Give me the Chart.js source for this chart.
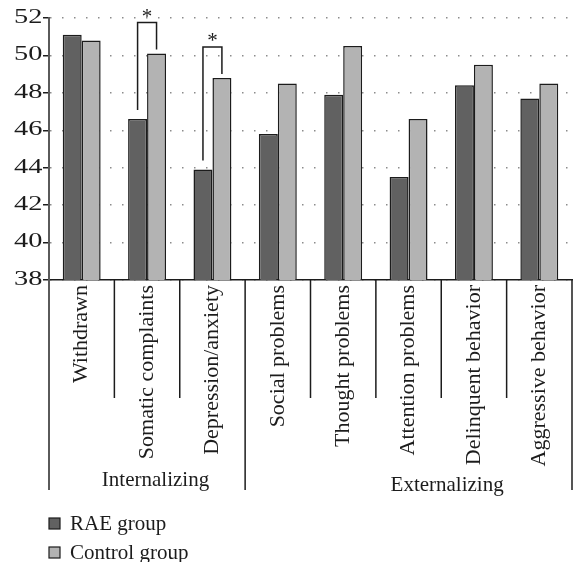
<!DOCTYPE html>
<html>
<head>
<meta charset="utf-8">
<script src="https://cdn.jsdelivr.net/npm/chart.js@4.4.0/dist/chart.umd.min.js"></script>
<style>
  html, body { margin: 0; padding: 0; background: #fff; }
  #wrap { width: 573px; height: 562px; }
</style>
</head>
<body>
<div id="wrap"><canvas id="c" width="573" height="562"></canvas></div>
<script>
// CBCL subscale scores
const categories = [
  'Withdrawn', 'Somatic complaints', 'Depression/anxiety', 'Social problems',
  'Thought problems', 'Attention problems', 'Delinquent behavior', 'Aggressive behavior'
];
const raeGroup     = [51.1, 46.6, 43.9, 45.8, 47.9, 43.5, 48.4, 47.7];
const controlGroup = [50.8, 50.1, 48.8, 48.5, 50.5, 46.6, 49.5, 48.5];
const seriesNames  = ['RAE group', 'Control group'];

// Broad-band scales and how many subscales each spans
const scaleGroups     = ['Internalizing', 'Externalizing'];
const scaleGroupSizes = [3, 5];

// Subscales with a significant group difference
const significant = [1, 2];

// Value axis
const yMin = 38, yMax = 52, yStep = 2;

const SERIF = "'Liberation Serif', 'Times New Roman', serif";
const INK = '#1c1c1c';
const AXIS_GRAY = '#5a5a5a';

// Value-axis numbers, set in a widened serif
const wideTickLabels = {
  id: 'wideTickLabels',
  afterDraw(chart, args, opts) {
    const ys = chart.scales.y;
    const ctx = chart.ctx;
    ctx.save();
    ctx.fillStyle = INK;
    ctx.font = opts.fontSize + 'px ' + SERIF;
    ctx.textAlign = 'right';
    ctx.textBaseline = 'alphabetic';
    ys.ticks.forEach(t => {
      const y = ys.getPixelForValue(t.value);
      ctx.save();
      ctx.translate(opts.right, y + opts.baselineShift);
      ctx.scale(opts.stretch, 1);
      ctx.fillText(String(t.value), 0, 0);
      ctx.restore();
    });
    ctx.restore();
  }
};

// Vertical dividers under the category axis plus broad-band labels
const categoryFrame = {
  id: 'categoryFrame',
  afterDraw(chart, args, opts) {
    const xs = chart.scales.x;
    const ctx = chart.ctx;
    const step = xs.getPixelForValue(1) - xs.getPixelForValue(0);
    const x0 = xs.getPixelForValue(0) - step / 2;
    const top = chart.chartArea.bottom;
    const groupEdges = [0];
    scaleGroupSizes.forEach(n => groupEdges.push(groupEdges[groupEdges.length - 1] + n));
    ctx.save();
    for (let i = 0; i <= categories.length; i++) {
      const x = x0 + i * step;
      const isGroupEdge = groupEdges.includes(i);
      ctx.strokeStyle = i === 0 ? AXIS_GRAY : INK;
      ctx.lineWidth = i === 0 ? 2 : 1.5;
      ctx.beginPath();
      ctx.moveTo(x, top);
      ctx.lineTo(x, top + (isGroupEdge ? opts.groupDrop : opts.innerDrop));
      ctx.stroke();
    }
    ctx.fillStyle = INK;
    ctx.font = opts.fontSize + 'px ' + SERIF;
    ctx.textAlign = 'center';
    ctx.textBaseline = 'alphabetic';
    scaleGroups.forEach((name, g) => {
      const left = x0 + groupEdges[g] * step;
      const right = x0 + groupEdges[g + 1] * step;
      const cx = left + (right - left) * opts.labelAnchor[g];
      ctx.fillText(name, cx, top + opts.labelDrop[g]);
    });
    ctx.restore();
  }
};

// Brackets with asterisks over significantly different pairs
const significanceMarks = {
  id: 'significanceMarks',
  afterDatasetsDraw(chart, args, opts) {
    const ctx = chart.ctx;
    const a = chart.getDatasetMeta(0).data;
    const b = chart.getDatasetMeta(1).data;
    ctx.save();
    ctx.strokeStyle = INK;
    ctx.lineWidth = 1.5;
    ctx.fillStyle = INK;
    ctx.font = opts.fontSize + 'px ' + SERIF;
    ctx.textAlign = 'center';
    ctx.textBaseline = 'alphabetic';
    significant.forEach(i => {
      const left = a[i], right = b[i];
      const yTop = Math.min(left.y, right.y) - opts.rise;
      ctx.beginPath();
      ctx.moveTo(left.x, left.y - opts.gapLeft);
      ctx.lineTo(left.x, yTop);
      ctx.lineTo(right.x, yTop);
      ctx.lineTo(right.x, right.y - opts.gapRight);
      ctx.stroke();
      ctx.fillText('*', (left.x + right.x) / 2, yTop + opts.starLift);
    });
    ctx.restore();
  }
};

// Stacked legend below the category labels
const stackedLegend = {
  id: 'stackedLegend',
  afterDraw(chart, args, opts) {
    const ctx = chart.ctx;
    ctx.save();
    ctx.font = opts.fontSize + 'px ' + SERIF;
    ctx.textBaseline = 'alphabetic';
    ctx.textAlign = 'left';
    chart.data.datasets.forEach((ds, k) => {
      const y = opts.top + k * opts.rowGap;
      ctx.fillStyle = ds.backgroundColor;
      ctx.strokeStyle = INK;
      ctx.lineWidth = 1.2;
      ctx.fillRect(opts.x, y, opts.box, opts.box);
      ctx.strokeRect(opts.x, y, opts.box, opts.box);
      ctx.fillStyle = INK;
      ctx.fillText(ds.label, opts.x + opts.box + opts.textGap, y + opts.box + 0.5);
    });
    ctx.restore();
  }
};

new Chart(document.getElementById('c'), {
  type: 'bar',
  data: {
    labels: categories,
    datasets: [
      {
        label: seriesNames[0],
        data: raeGroup,
        backgroundColor: '#616161',
        borderColor: INK,
        borderWidth: 1.5
      },
      {
        label: seriesNames[1],
        data: controlGroup,
        backgroundColor: '#b3b3b3',
        borderColor: INK,
        borderWidth: 1.5
      }
    ]
  },
  options: {
    responsive: false,
    animation: false,
    devicePixelRatio: 1,
    layout: { padding: { top: 18, right: 1, bottom: 0, left: 0 } },
    datasets: {
      bar: { barPercentage: 1.0, categoryPercentage: 0.58 }
    },
    scales: {
      x: {
        grid: { display: false },
        border: { display: true, color: INK, width: 1.5 },
        ticks: {
          autoSkip: false,
          minRotation: 90,
          maxRotation: 90,
          padding: -3,
          color: INK,
          font: { family: SERIF, size: 22 }
        },
        afterFit(scale) { scale.height = 282; }
      },
      y: {
        min: yMin,
        max: yMax,
        grid: {
          color: '#8c8c8c',
          lineWidth: 1.5,
          drawTicks: true,
          tickLength: 6,
          tickColor: INK,
          tickWidth: 1.5
        },
        border: { display: true, color: AXIS_GRAY, width: 2, dash: [1.5, 10.5] },
        ticks: {
          stepSize: yStep,
          display: false
        },
        afterFit(scale) { scale.width = 49; }
      }
    },
    plugins: {
      legend: { display: false },
      tooltip: { enabled: false },
      wideTickLabels: {
        right: 42.5,
        baselineShift: 4.8,
        stretch: 1.42,
        fontSize: 20
      },
      categoryFrame: {
        innerDrop: 118,
        groupDrop: 210,
        fontSize: 21,
        labelAnchor: [0.543, 0.618],
        labelDrop: [206, 211]
      },
      significanceMarks: {
        rise: 31,
        gapLeft: 9,
        gapRight: 4,
        starLift: 0,
        fontSize: 21
      },
      stackedLegend: {
        x: 49,
        top: 518,
        rowGap: 29,
        box: 11,
        textGap: 10,
        fontSize: 21
      }
    }
  },
  plugins: [wideTickLabels, categoryFrame, significanceMarks, stackedLegend]
});
</script>
</body>
</html>
